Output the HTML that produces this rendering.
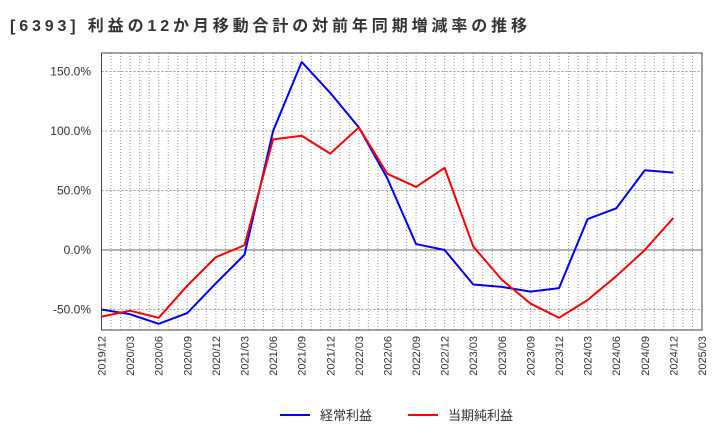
<!DOCTYPE html>
<html><head><meta charset="utf-8"><style>
body{margin:0;background:#fff;font-family:"Liberation Sans","Noto Sans CJK JP",sans-serif;}
</style></head><body>
<svg width="720" height="440" xmlns="http://www.w3.org/2000/svg">
<text x="10" y="31" font-size="16" font-weight="bold" fill="#333" textLength="517" lengthAdjust="spacing" font-family="Liberation Sans, Noto Sans CJK JP, sans-serif">[6393]  利益の12か月移動合計の対前年同期増減率の推移</text>
<g id="grid"></g>
<g id="axes"></g>
<g id="series"></g>
<g>
<line x1="280" y1="415" x2="310" y2="415" stroke="#0000ff" stroke-width="2"/>
<text x="320" y="420" font-size="13" fill="#333">経常利益</text>
<line x1="408" y1="415" x2="438" y2="415" stroke="#ff0000" stroke-width="2"/>
<text x="448" y="420" font-size="13" fill="#333">当期純利益</text>
</g>
</svg>
<script>
const categories=["2019/12","2020/03","2020/06","2020/09","2020/12","2021/03","2021/06","2021/09","2021/12","2022/03","2022/06","2022/09","2022/12","2023/03","2023/06","2023/09","2023/12","2024/03","2024/06","2024/09","2024/12","2025/03"];
const ordinaryProfit=[-50,-54,-62,-53,-28,-4,100,158,132,103,60,5,0,-29,-31,-35,-32,26,35,67,65];
const netProfit=[-56,-51,-57,-30,-6,4,93,96,81,103,64,53,69,3,-25,-45,-57,-42,-22,0,27];
const yTicks=[-50,0,50,100,150];
const ns="http://www.w3.org/2000/svg";
const L=101.5,R=702,T=53,B=330;
const xs=i=>L+i*(R-L)/21;
const ys=v=>250-v*1.19;
function mk(tag,attrs,parent){const e=document.createElementNS(ns,tag);for(const k in attrs)e.setAttribute(k,attrs[k]);parent.appendChild(e);return e;}
const grid=document.getElementById('grid'),axes=document.getElementById('axes'),series=document.getElementById('series');
for(let m=1;m<63;m++){const x=L+m*(R-L)/63;const l=mk('line',{x1:x,x2:x,y1:T,y2:B,stroke:'#999','stroke-dasharray':'1,2','stroke-width':1},grid);

}
yTicks.forEach(v=>{const y=ys(v);const l=mk('line',{x1:L,x2:R,y1:y,y2:y,stroke:v===0?'#666':'#999','stroke-dasharray':v===0?'':'2,2','stroke-width':1},grid);


const t=mk('text',{x:91,y:y+4,'font-size':12,fill:'#333','text-anchor':'end'},axes);t.textContent=v.toFixed(1)+'%';

});
const fr=mk('rect',{x:L,y:T,width:R-L,height:B-T,fill:'none',stroke:'#444','stroke-width':1},axes);


categories.forEach((c,i)=>{const x=xs(i);const t=mk('text',{transform:`translate(${x+4},${B+6}) rotate(-90)`,'font-size':11,fill:'#333','text-anchor':'end'},axes);t.textContent=c;

});
function line(data,color,name){const p=mk('polyline',{points:data.map((v,i)=>xs(i)+','+ys(v)).join(' '),fill:'none',stroke:color,'stroke-width':2,'stroke-linejoin':'round'},series);

}
line(ordinaryProfit,'#0000ff','ordinary-profit-line');
line(netProfit,'#ff0000','net-profit-line');
</script>
</body></html>
